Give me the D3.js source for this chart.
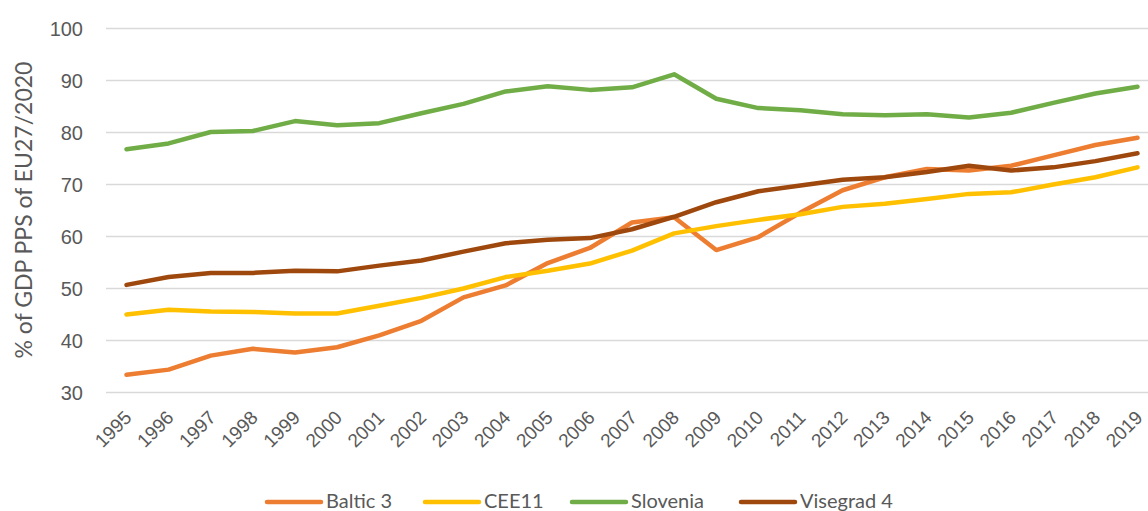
<!DOCTYPE html>
<html>
<head>
<meta charset="utf-8">
<script src="https://cdn.jsdelivr.net/npm/d3@7"></script>
<style>
  html, body { margin: 0; padding: 0; background: #fff; }
  svg { display: block; font-family: Lato, "Open Sans", sans-serif; }
</style>
</head>
<body>
<svg id="chart" width="1148" height="511"></svg>
<script>
const years = ["1995","1996","1997","1998","1999","2000","2001","2002","2003","2004","2005","2006","2007","2008","2009","2010","2011","2012","2013","2014","2015","2016","2017","2018","2019"];
const baltic3 = [33.3,34.3,37.0,38.3,37.6,38.6,40.9,43.7,48.2,50.5,54.8,57.7,62.6,63.6,57.3,59.8,64.5,68.8,71.3,72.9,72.6,73.5,75.5,77.5,78.9];
const cee11 = [44.9,45.8,45.5,45.4,45.1,45.1,46.6,48.1,49.9,52.1,53.3,54.7,57.2,60.5,61.9,63.1,64.2,65.6,66.2,67.1,68.1,68.4,69.9,71.3,73.2];
const slovenia = [76.7,77.8,80.0,80.2,82.1,81.3,81.7,83.6,85.4,87.8,88.8,88.1,88.6,91.1,86.4,84.6,84.2,83.4,83.2,83.4,82.8,83.7,85.6,87.4,88.7];
const visegrad4 = [50.6,52.1,52.9,52.9,53.3,53.2,54.3,55.3,57.0,58.6,59.3,59.6,61.3,63.7,66.5,68.6,69.7,70.8,71.3,72.3,73.5,72.6,73.2,74.4,75.9];
const seriesNames = ["Baltic 3","CEE11","Slovenia","Visegrad 4"];
const seriesColors = ["#ED7D31","#FFC000","#70AD47","#9E480E"];
const yTicks = [30,40,50,60,70,80,90,100];
const yTitle = "% of GDP PPS of EU27/2020";

const seriesData = [baltic3, cee11, slovenia, visegrad4];
const svg = d3.select("#chart");
const textColor = "#595959";

const x = d3.scalePoint().domain(years).range([126.5, 1137.5]);
const y = d3.scaleLinear().domain([30, 100]).range([392, 28]);

// gridlines
const yAxis = d3.axisLeft(y).tickValues(yTicks).tickSize(-(1148 - 106)).tickPadding(23).tickFormat(d3.format("d"));
const gy = svg.append("g").attr("transform", "translate(106,0)").call(yAxis);
gy.select(".domain").remove();
gy.selectAll(".tick line").attr("stroke", "#D9D9D9").attr("stroke-width", 1.5);
gy.selectAll(".tick text").attr("fill", textColor).style("font-size", "20px").attr("dy", "0.35em");

// x labels
const xAxis = d3.axisBottom(x).tickSize(0).tickPadding(0);
const gx = svg.append("g").attr("transform", "translate(0,392)").call(xAxis);
gx.select(".domain").remove();
gx.selectAll(".tick text")
  .attr("fill", textColor)
  .style("font-size", "19px")
  .attr("text-anchor", "end")
  .attr("transform", "translate(1,22) rotate(-45)")
  .attr("dy", "0.35em")
  .attr("y", 0);

// y title
svg.append("text")
  .attr("transform", "translate(32,210) rotate(-90)")
  .attr("text-anchor", "middle")
  .attr("fill", textColor)
  .style("font-size", "23px")
  .text(yTitle);

// lines
const line = d3.line().x((d, i) => x(years[i])).y(d => y(d));
seriesData.forEach((s, k) => {
  svg.append("path")
    .datum(s)
    .attr("fill", "none")
    .attr("stroke", seriesColors[k])
    .attr("stroke-width", 4.5)
    .attr("stroke-linejoin", "round")
    .attr("stroke-linecap", "round")
    .attr("d", line);
});

// legend
const legendX = [267, 425, 572, 741];
const lg = svg.append("g");
seriesNames.forEach((n, k) => {
  lg.append("line")
    .attr("x1", legendX[k]).attr("x2", legendX[k] + 54)
    .attr("y1", 502).attr("y2", 502)
    .attr("stroke", seriesColors[k]).attr("stroke-width", 4.5)
    .attr("stroke-linecap", "round");
  lg.append("text")
    .attr("x", legendX[k] + 59).attr("y", 501)
    .attr("dy", "0.35em")
    .attr("fill", textColor)
    .style("font-size", "20px")
    .text(n);
});
</script>
</body>
</html>
